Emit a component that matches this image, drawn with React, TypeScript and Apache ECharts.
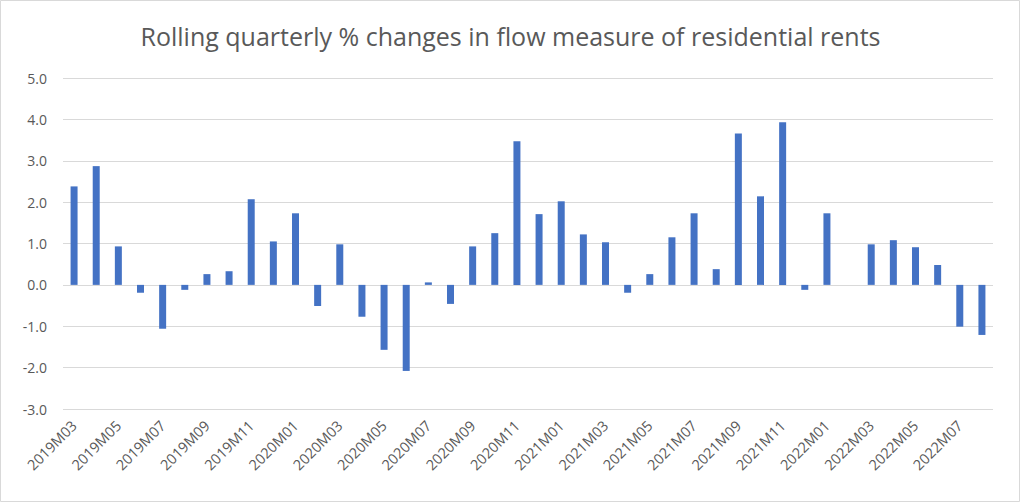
import React, { useEffect, useRef } from "react";
import * as echarts from "echarts";

const categories = [
  "2019M03","2019M04","2019M05","2019M06","2019M07","2019M08","2019M09","2019M10","2019M11","2019M12",
  "2020M01","2020M02","2020M03","2020M04","2020M05","2020M06","2020M07","2020M08","2020M09","2020M10","2020M11","2020M12",
  "2021M01","2021M02","2021M03","2021M04","2021M05","2021M06","2021M07","2021M08","2021M09","2021M10","2021M11","2021M12",
  "2022M01","2022M02","2022M03","2022M04","2022M05","2022M06","2022M07","2022M08",
];

const values = [
  2.38, 2.87, 0.93, -0.19, -1.06, -0.12, 0.26, 0.33, 2.07, 1.05,
  1.73, -0.51, 0.98, -0.77, -1.57, -2.08, 0.06, -0.46, 0.93, 1.25, 3.47, 1.71,
  2.02, 1.22, 1.03, -0.19, 0.26, 1.15, 1.73, 0.38, 3.66, 2.14, 3.93, -0.12,
  1.73, 0.0, 0.98, 1.08, 0.91, 0.48, -1.01, -1.21,
];

const title = "Rolling quarterly % changes in flow measure of residential rents";
const FONT = "'Open Sans', 'Noto Sans', sans-serif";

export default function App() {
  const ref = useRef<HTMLDivElement>(null);
  useEffect(() => {
    document.body.style.margin = "0";
    const chart = echarts.init(ref.current!, null, { renderer: "svg" });
    chart.setOption({
      animation: false,
      backgroundColor: "#ffffff",
      title: {
        text: title,
        left: "center",
        top: 18,
        textStyle: { fontFamily: FONT, fontSize: 25, fontWeight: "normal", color: "#595959" },
      },
      graphic: [
        {
          type: "rect",
          shape: { x: 0.5, y: 0.5, width: 1019, height: 501 },
          style: { fill: "none", stroke: "#d9d9d9", lineWidth: 1 },
          silent: true,
        },
      ],
      grid: { left: 63, right: 28, top: 78, bottom: 94 },
      xAxis: {
        type: "category",
        data: categories,
        axisLine: { show: false },
        axisTick: { show: false },
        axisLabel: {
          interval: 1,
          rotate: 45,
          fontFamily: FONT,
          fontSize: 14.5,
          color: "#595959",
          margin: 14,
        },
      },
      yAxis: {
        type: "value",
        min: -3,
        max: 5,
        interval: 1,
        axisLine: { show: false },
        axisTick: { show: false },
        axisLabel: {
          formatter: (v: number) => v.toFixed(1),
          fontFamily: FONT,
          fontSize: 14,
          color: "#595959",
          margin: 16,
        },
        splitLine: { lineStyle: { color: "#d9d9d9", width: 1.2 } },
      },
      series: [
        {
          type: "bar",
          data: values,
          barWidth: 7,
          itemStyle: { color: "#4472c4" },
        },
      ],
    });
    return () => chart.dispose();
  }, []);
  return <div ref={ref} style={{ position: "absolute", left: 0, top: 0, width: 1021, height: 503 }} />;
}
